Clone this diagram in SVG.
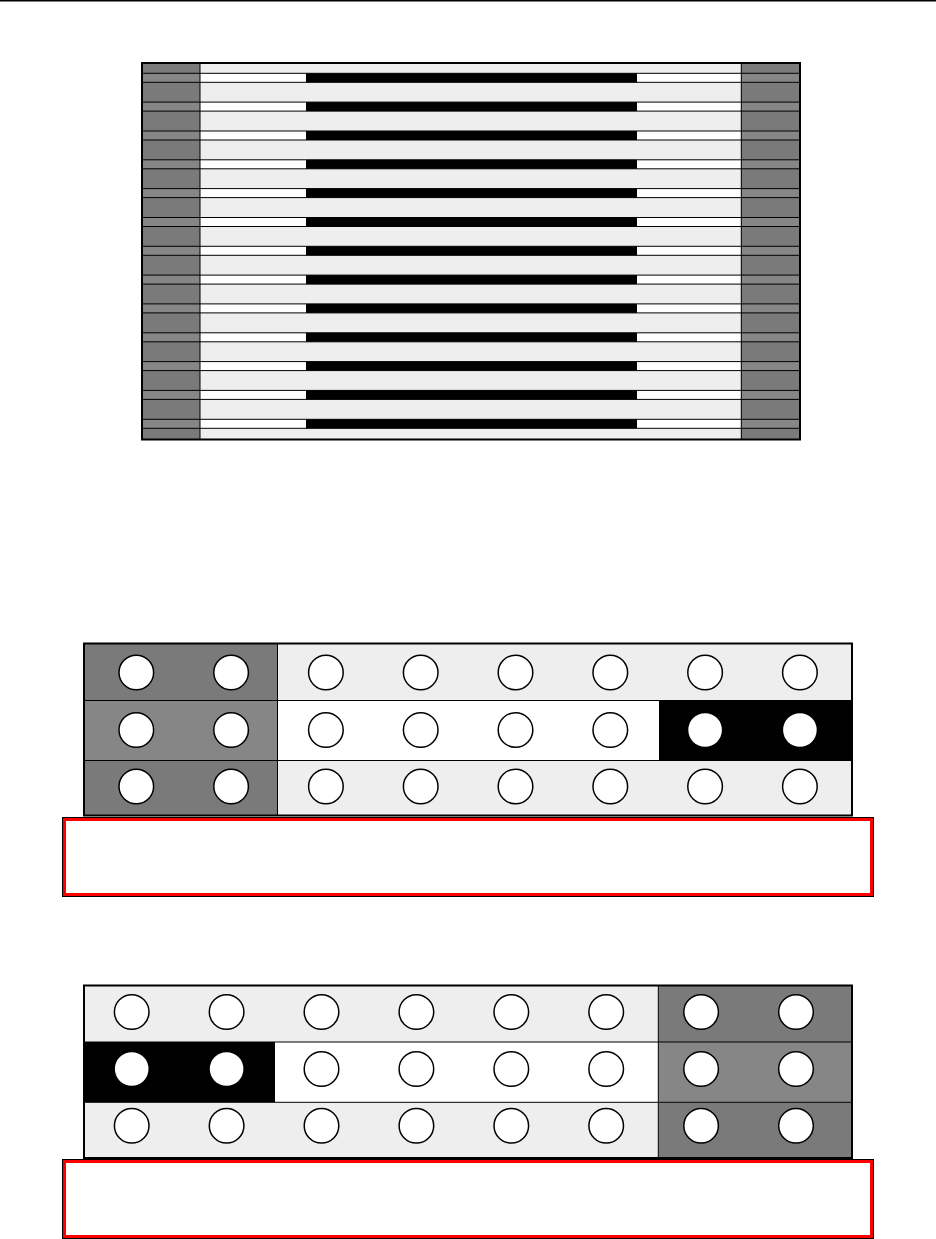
<svg xmlns="http://www.w3.org/2000/svg" xmlns:xlink="http://www.w3.org/1999/xlink" width="936" height="1239" viewBox="0 0 936 1239">
<style>
.dk{fill:#7a7a7a}
.md{fill:#868686}
.lt{fill:#eeeeee}
.wh{fill:#ffffff}
.bk{fill:#000000}
.ln{stroke:#000;stroke-width:1;fill:none}
.frame{stroke:#000;stroke-width:2;fill:none}
.c{fill:#fff;stroke:#000;stroke-width:1.5}
.cb{fill:#fff;stroke:none}
</style>
<defs>
<g id="band">
<rect class="md" x="142" y="0" width="58" height="9"/>
<rect class="wh" x="200" y="0" width="106" height="9"/>
<rect class="bk" x="306" y="0" width="331" height="9"/>
<rect class="wh" x="637" y="0" width="104" height="9"/>
<rect class="md" x="741" y="0" width="59" height="9"/>
<line class="ln" x1="142" y1="0" x2="800" y2="0"/>
<line class="ln" x1="142" y1="9" x2="800" y2="9"/>
</g>
<g id="redbox">
<rect x="0" y="0" width="812" height="80" fill="#000"/>
<rect x="1" y="1" width="810" height="78" fill="#ff0000"/>
<rect x="4" y="4" width="804" height="72" fill="#fff"/>
</g>
</defs>
<rect x="0" y="0" width="936" height="1239" fill="#fff"/>
<rect x="0" y="0" width="936" height="1.5" fill="#000"/>

<g id="stripes">
<rect class="dk" x="142" y="63" width="58" height="376.5"/>
<rect class="lt" x="200" y="63" width="541" height="376.5"/>
<rect class="dk" x="741" y="63" width="59" height="376.5"/>
<use xlink:href="#band" y="73.3"/>
<use xlink:href="#band" y="102.1"/>
<use xlink:href="#band" y="131"/>
<use xlink:href="#band" y="159.8"/>
<use xlink:href="#band" y="188.6"/>
<use xlink:href="#band" y="217.5"/>
<use xlink:href="#band" y="246.3"/>
<use xlink:href="#band" y="275.1"/>
<use xlink:href="#band" y="303.9"/>
<use xlink:href="#band" y="332.8"/>
<use xlink:href="#band" y="361.6"/>
<use xlink:href="#band" y="390.4"/>
<use xlink:href="#band" y="419.3"/>
<line class="ln" x1="200" y1="63" x2="200" y2="439.5"/>
<line class="ln" x1="741.3" y1="63" x2="741.3" y2="439.5"/>
<rect class="frame" x="142" y="63" width="658" height="376.5"/>
</g>

<g id="grid1">
<rect class="dk" x="84" y="643.5" width="193.5" height="57"/>
<rect class="lt" x="277.5" y="643.5" width="574.5" height="57"/>
<rect class="md" x="84" y="700.5" width="193.5" height="60"/>
<rect class="wh" x="277.5" y="700.5" width="381.5" height="60"/>
<rect class="bk" x="659" y="700.5" width="193" height="60"/>
<rect class="dk" x="84" y="760.5" width="193.5" height="55"/>
<rect class="lt" x="277.5" y="760.5" width="574.5" height="55"/>
<line class="ln" x1="84" y1="700.5" x2="852" y2="700.5"/>
<line class="ln" x1="84" y1="760.5" x2="852" y2="760.5"/>
<line class="ln" x1="277.5" y1="643.5" x2="277.5" y2="815.5"/>
<rect class="frame" x="84" y="643.5" width="768" height="172"/>
<g>
<circle class="c" cx="136.3" cy="672.5" r="17.3"/>
<circle class="c" cx="231.1" cy="672.5" r="17.3"/>
<circle class="c" cx="325.9" cy="672.5" r="17.3"/>
<circle class="c" cx="420.7" cy="672.5" r="17.3"/>
<circle class="c" cx="515.5" cy="672.5" r="17.3"/>
<circle class="c" cx="610.3" cy="672.5" r="17.3"/>
<circle class="c" cx="705.1" cy="672.5" r="17.3"/>
<circle class="c" cx="799.9" cy="672.5" r="17.3"/>
<circle class="c" cx="136.3" cy="730" r="17.3"/>
<circle class="c" cx="231.1" cy="730" r="17.3"/>
<circle class="c" cx="325.9" cy="730" r="17.3"/>
<circle class="c" cx="420.7" cy="730" r="17.3"/>
<circle class="c" cx="515.5" cy="730" r="17.3"/>
<circle class="c" cx="610.3" cy="730" r="17.3"/>
<circle class="cb" cx="705.1" cy="730" r="16.8"/>
<circle class="cb" cx="799.9" cy="730" r="16.8"/>
<circle class="c" cx="136.3" cy="786.5" r="17.3"/>
<circle class="c" cx="231.1" cy="786.5" r="17.3"/>
<circle class="c" cx="325.9" cy="786.5" r="17.3"/>
<circle class="c" cx="420.7" cy="786.5" r="17.3"/>
<circle class="c" cx="515.5" cy="786.5" r="17.3"/>
<circle class="c" cx="610.3" cy="786.5" r="17.3"/>
<circle class="c" cx="705.1" cy="786.5" r="17.3"/>
<circle class="c" cx="799.9" cy="786.5" r="17.3"/>
</g>
</g>
<g id="box1"><use xlink:href="#redbox" x="62" y="817"/></g>

<g id="grid2">
<rect class="lt" x="84" y="985.5" width="574.3" height="56.5"/>
<rect class="dk" x="658.3" y="985.5" width="193.7" height="56.5"/>
<rect class="bk" x="84" y="1042" width="191" height="60.3"/>
<rect class="wh" x="275" y="1042" width="383.3" height="60.3"/>
<rect class="md" x="658.3" y="1042" width="193.7" height="60.3"/>
<rect class="lt" x="84" y="1102.3" width="574.3" height="55.7"/>
<rect class="dk" x="658.3" y="1102.3" width="193.7" height="55.7"/>
<line class="ln" x1="84" y1="1042" x2="852" y2="1042"/>
<line class="ln" x1="84" y1="1102.3" x2="852" y2="1102.3"/>
<line class="ln" x1="658.3" y1="985.5" x2="658.3" y2="1158"/>
<rect class="frame" x="84" y="985.5" width="768" height="172.5"/>
<g>
<circle class="c" cx="131.7" cy="1012" r="17.3"/>
<circle class="c" cx="226.6" cy="1012" r="17.3"/>
<circle class="c" cx="321.5" cy="1012" r="17.3"/>
<circle class="c" cx="416.4" cy="1012" r="17.3"/>
<circle class="c" cx="511.3" cy="1012" r="17.3"/>
<circle class="c" cx="606.2" cy="1012" r="17.3"/>
<circle class="c" cx="701.1" cy="1012" r="17.3"/>
<circle class="c" cx="796" cy="1012" r="17.3"/>
<circle class="cb" cx="131.7" cy="1069" r="16.8"/>
<circle class="cb" cx="226.6" cy="1069" r="16.8"/>
<circle class="c" cx="321.5" cy="1069" r="17.3"/>
<circle class="c" cx="416.4" cy="1069" r="17.3"/>
<circle class="c" cx="511.3" cy="1069" r="17.3"/>
<circle class="c" cx="606.2" cy="1069" r="17.3"/>
<circle class="c" cx="701.1" cy="1069" r="17.3"/>
<circle class="c" cx="796" cy="1069" r="17.3"/>
<circle class="c" cx="131.7" cy="1125.7" r="17.3"/>
<circle class="c" cx="226.6" cy="1125.7" r="17.3"/>
<circle class="c" cx="321.5" cy="1125.7" r="17.3"/>
<circle class="c" cx="416.4" cy="1125.7" r="17.3"/>
<circle class="c" cx="511.3" cy="1125.7" r="17.3"/>
<circle class="c" cx="606.2" cy="1125.7" r="17.3"/>
<circle class="c" cx="701.1" cy="1125.7" r="17.3"/>
<circle class="c" cx="796" cy="1125.7" r="17.3"/>
</g>
</g>
<g id="box2"><use xlink:href="#redbox" x="62" y="1159"/></g>

<g id="connectors"/>
</svg>
